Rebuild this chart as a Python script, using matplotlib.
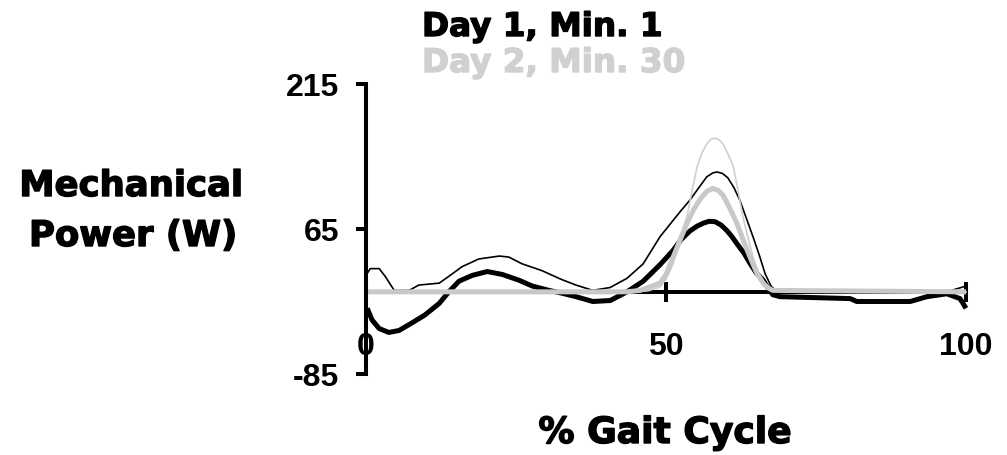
import matplotlib
matplotlib.use("Agg")
import matplotlib.pyplot as plt
import matplotlib.patheffects as pe

# ---- data ----
x_ticks = [0, 50, 100]
y_ticks = [-85, 65, 215]
y_tick_labels = ["-85", "65", "215"]
title_day1 = "Day 1, Min. 1"
title_day2 = "Day 2, Min. 30"
ylabel_lines = ["Mechanical", "Power (W)"]
xlabel = "% Gait Cycle"

# Day 1, Min. 1 - thick black
d1_thick_x = [0.2, 1.0, 2.2, 3.8, 5.5, 7.7, 9.8, 12.2, 13.8, 15.5, 17.7, 20.2, 22.7, 25.5,
              27.7, 30.5, 32.7, 35.0, 37.8, 40.7, 43.5, 46.2, 49.0, 51.2, 52.5, 54.0,
              55.2, 56.2, 57.2, 58.2, 59.2, 60.2, 61.0, 61.8, 63.0, 64.0, 65.0, 66.2,
              67.0, 67.8, 69.0, 80.7, 81.8, 90.7, 93.5, 96.8, 99.0, 100.0]
d1_thick_y = [-17, -29, -38, -42, -40, -32, -24, -12, 0, 11, 17, 21, 18, 12,
              6, 1.5, -1.5, -5, -10, -9, 0, 11, 28, 43, 54, 63,
              68, 71, 73, 72.5, 69, 63, 57, 50, 40, 29.5, 20, 12,
              4, -3, -5, -7, -10, -10, -5, -2, -7, -17]

# Day 1, Min. 1 - thin black
d1_thin_x = [0.2, 0.7, 2.2, 3.2, 4.7, 7.2, 8.8, 12.2, 13.8, 16.0, 18.8, 22.2, 23.8, 26.0,
             29.3, 32.5, 35.0, 37.8, 40.7, 43.5, 46.2, 49.0, 51.2, 52.5, 54.0, 55.5,
             56.8, 57.8, 58.5, 59.4, 60.3, 61.3, 62.3, 63.4, 64.5, 65.6, 66.5, 67.5,
             68.5, 80.0, 96.8, 100.0]
d1_thin_y = [19, 24, 24, 16, 1.5, 1.5, 7, 9, 16, 26, 34, 37, 36, 29,
             22, 13, 7, 1.5, 4.5, 14, 29, 57, 74, 84, 95, 108,
             119, 123, 124, 122.5, 118, 108, 95, 76, 57, 37, 19, 6,
             0, 0, 0, 6]

# Day 2, Min. 30 - thick grey
d2_thick_x = [0.0, 43.5, 45.7, 49.0, 50.0, 51.2, 52.3, 53.5, 54.6, 55.7, 56.8, 57.8,
              58.7, 59.5, 60.6, 61.8, 62.9, 64.0, 65.1, 66.2, 67.0, 67.8, 100.0]
d2_thick_y = [0, 0, 1.5, 9, 18, 36, 53, 71, 85, 96, 104, 107,
              105, 100, 87, 71, 53, 36, 20, 9, 4, 1.5, 0]

# Day 2, Min. 30 - thin grey
d2_thin_x = [0.0, 44.0, 47.0, 49.0, 50.0, 51.2, 52.3, 53.5, 54.4, 55.2, 56.0, 56.8,
             57.5, 58.2, 58.9, 59.5, 60.3, 61.2, 62.0, 62.8, 63.7, 64.5, 65.4, 66.2,
             67.0, 67.8, 100.0]
d2_thin_y = [0, 0, 1, 5, 13, 29, 55, 78, 106, 130, 144, 153,
             158, 159, 157, 153, 143, 130, 105, 78, 55, 36, 20, 9,
             4, 1.5, 0]

BLACK = "#000000"
GREY_THICK = "#c8c8c8"
GREY_THIN = "#cfcfcf"
TITLE_GREY = "#d0d0d0"

fig = plt.figure(figsize=(10.07, 4.56), dpi=100)
W, H = 1007, 456
left, right, top, bottom = 366, 966, 85, 375
ax = fig.add_axes([left / W, 1 - bottom / H, (right - left) / W, (bottom - top) / H])
ax.set_xlim(0, 100)
ax.set_ylim(-85, 215)

ax.plot(d1_thick_x, d1_thick_y, color=BLACK, lw=3.6, zorder=4, clip_on=False,
        solid_capstyle="butt", solid_joinstyle="round")
ax.plot(d1_thin_x, d1_thin_y, color=BLACK, lw=1.2, zorder=5, clip_on=False)
ax.plot(d2_thin_x, d2_thin_y, color=GREY_THIN, lw=1.2, zorder=5, clip_on=False)
ax.plot(d2_thick_x, d2_thick_y, color=GREY_THICK, lw=3.6, zorder=6, clip_on=False,
        solid_capstyle="butt", solid_joinstyle="round")

# spines
for s in ("top", "right"):
    ax.spines[s].set_visible(False)
ax.spines["left"].set_linewidth(2.9)
ax.spines["left"].set_zorder(7)
ax.spines["bottom"].set_position(("data", 0))
ax.spines["bottom"].set_linewidth(2.9)
ax.spines["bottom"].set_zorder(3)

tick_font = {"family": "Liberation Sans", "weight": "bold", "size": 23}
ax.set_yticks(y_ticks)
ax.set_yticklabels(y_tick_labels, fontdict=tick_font)
ax.tick_params(axis="y", direction="out", length=7.2, width=2.9, pad=12)
ax.set_xticks(x_ticks)
ax.set_xticklabels([str(v) for v in x_ticks], fontdict=tick_font)
ax.tick_params(axis="x", direction="inout", length=14.4, width=2.9, pad=21)
ax.patch.set_alpha(0)

lab_font = dict(family="DejaVu Sans", weight="bold")


def heavy(color):
    return [pe.withStroke(linewidth=1.0, foreground=color)]


fig.text(422 / W, 1 - 37 / H, title_day1, ha="left", va="baseline", fontsize=23.5,
         color=BLACK, path_effects=heavy(BLACK), **lab_font)
fig.text(422 / W, 1 - 73 / H, title_day2, ha="left", va="baseline", fontsize=23.5,
         color=TITLE_GREY, path_effects=heavy(TITLE_GREY), **lab_font)
fig.text(131 / W, 1 - 197 / H, ylabel_lines[0], ha="center", va="baseline", fontsize=25.5,
         path_effects=heavy(BLACK), **lab_font)
fig.text(133 / W, 1 - 247 / H, ylabel_lines[1], ha="center", va="baseline", fontsize=25.5,
         path_effects=heavy(BLACK), **lab_font)
fig.text(665 / W, 1 - 444 / H, xlabel, ha="center", va="baseline", fontsize=26,
         path_effects=heavy(BLACK), **lab_font)

fig.savefig("out.png", dpi=100)
